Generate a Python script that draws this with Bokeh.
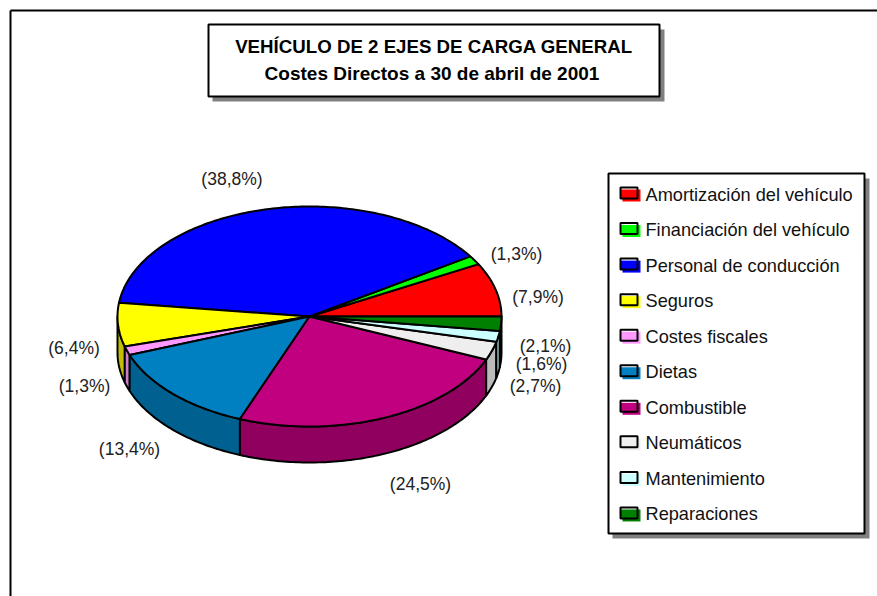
from bokeh.plotting import figure
from bokeh.models import Range1d
from bokeh.core.properties import value
from bokeh.embed import file_html
from bokeh.resources import INLINE
import math

categories = ["Amortización del vehículo", "Financiación del vehículo", "Personal de conducción",
              "Seguros", "Costes fiscales", "Dietas", "Combustible", "Neumáticos",
              "Mantenimiento", "Reparaciones"]
shares = [7.9, 1.3, 38.8, 6.4, 1.3, 13.4, 24.5, 2.7, 1.6, 2.1]
share_labels = ["(7,9%)", "(1,3%)", "(38,8%)", "(6,4%)", "(1,3%)", "(13,4%)", "(24,5%)", "(2,7%)", "(1,6%)", "(2,1%)"]
top_colors = ["#FF0000", "#00FF00", "#0000FF", "#FFFF00", "#FF99FF", "#0080C0", "#C0007F", "#EEEEEE", "#CCFFFF", "#008000"]
side_colors = ["#990000", "#009900", "#000099", "#C0C000", "#CC80CC", "#006090", "#8F005F", "#BBBBBB", "#99CCCC", "#005000"]

# layout (pixels of the picture)
label_cx = [537.5, 516, 231.5, 73.5, 84, 129, 420, 535, 541, 545]
label_cy = [296, 253, 178, 347, 385, 448, 483, 385, 363, 345]
W, H = 877, 596
CX, CY, RX, RY, DEPTH = 309, 316, 192, 110, 36
FONT = value("Liberation Sans")

p = figure(width=W, height=H, output_backend="svg", toolbar_location=None,
           x_range=Range1d(0, W), y_range=Range1d(H, 0), min_border=0)
p.axis.visible = False
p.grid.visible = False
p.outline_line_color = None
p.background_fill_color = "white"

# chart frame
p.line([10, 10], [596, 10], line_color="black", line_width=2)
p.line([10, 877], [10, 10], line_color="black", line_width=2)

def pt(t, dy=0):
    return CX + RX * math.cos(t), CY - RY * math.sin(t) + dy

total = sum(shares)
edges = [0.0]
for s in shares:
    edges.append(edges[-1] + s / total * 2 * math.pi)

# side walls: only the front half (pi..2pi) of the rim is visible
for i in range(len(shares)):
    a, b = max(edges[i], math.pi), edges[i + 1]
    if b <= a:
        continue
    n = max(2, int((b - a) * 60))
    ts = [a + (b - a) * k / n for k in range(n + 1)]
    upper = [pt(t) for t in ts]
    lower = [pt(t, DEPTH) for t in reversed(ts)]
    poly = upper + lower
    p.patch([q[0] for q in poly], [q[1] for q in poly], fill_color=side_colors[i],
            line_color="black", line_width=2, line_join="round")

# top faces
for i in range(len(shares)):
    a, b = edges[i], edges[i + 1]
    n = max(2, int((b - a) * 60))
    poly = [(CX, CY)] + [pt(a + (b - a) * k / n) for k in range(n + 1)]
    p.patch([q[0] for q in poly], [q[1] for q in poly], fill_color=top_colors[i],
            line_color="black", line_width=2, line_join="round")

# slice labels
p.text(label_cx, label_cy, text=share_labels, text_font=FONT, text_font_size="17.5px",
       text_color="#222222", text_align="center", text_baseline="middle")

def box(x0, y0, x1, y1):
    p.quad(left=[x0 + 4], right=[x1 + 5], top=[y0 + 5], bottom=[y1 + 5], fill_color="#808080", line_color=None)
    p.quad(left=[x0], right=[x1], top=[y0], bottom=[y1], fill_color="white", line_color="black", line_width=2)

# title
box(208, 24, 659, 96)
p.text([433.5], [46], text=["VEHÍCULO DE 2 EJES DE CARGA GENERAL"], text_font=FONT, text_font_size="18.7px",
       text_font_style="bold", text_color="black", text_align="center", text_baseline="middle")
p.text([431.5], [73], text=["Costes Directos a 30 de abril de 2001"], text_font=FONT, text_font_size="19px",
       text_font_style="bold", text_color="black", text_align="center", text_baseline="middle")

# legend
box(608, 173, 864, 533)
for i, name in enumerate(categories):
    y = 194 + i * 35.55
    p.quad(left=[622], right=[640], top=[y - 5], bottom=[y + 7], fill_color=top_colors[i], line_color=None)
    p.quad(left=[620], right=[637], top=[y - 7], bottom=[y + 4], fill_color="white", line_color=None)
    p.quad(left=[620], right=[637], top=[y - 5], bottom=[y + 4], fill_color=top_colors[i], line_color=None)
    p.quad(left=[620], right=[637], top=[y - 7], bottom=[y + 4], fill_color=None, line_color="black", line_width=2)
    p.text([645], [y], text=[name], text_font=FONT, text_font_size="18.2px", text_color="#111111",
           text_align="left", text_baseline="middle")

open("out.html", "w").write(file_html(p, INLINE))
